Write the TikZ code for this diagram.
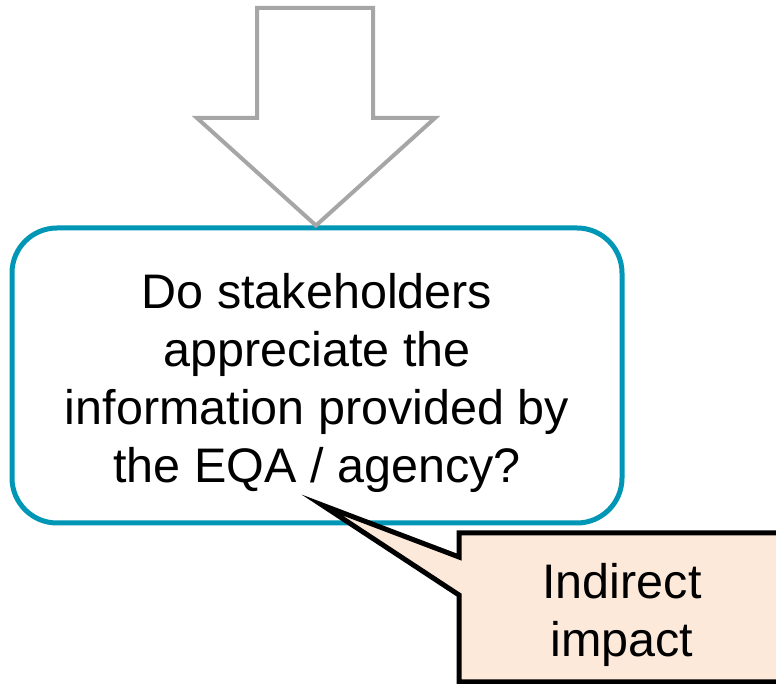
\documentclass[tikz,border=0pt]{standalone}
\usepackage{fontspec}
\setmainfont{Liberation Sans}
\definecolor{teal1}{RGB}{0,150,182}
\definecolor{calloutfill}{RGB}{253,233,217}
\definecolor{arrowgray}{RGB}{166,166,166}
\begin{document}
\begin{tikzpicture}[x=1pt,y=1pt,
  qbox/.style={draw=teal1,line width=5pt,rounded corners=45pt,fill=white,minimum width=610pt,minimum height=295pt,inner sep=0pt},
  bigtext/.style={font=\fontsize{48.5}{58}\selectfont,align=center,inner sep=0pt},
  callshape/.style={draw=black,line width=5pt,fill=calloutfill,line join=miter},
  arrowshape/.style={draw=arrowgray,line width=4pt,fill=white,line join=miter}]
\useasboundingbox (0,0) rectangle (776,684);
% question box
\node[qbox] (box) at (317,308.5) {};
% hollow down arrow
\coordinate (tip) at (box.north -| 316,0);
\draw[arrowshape] (257,676) -- (373,676) -- (373,566) -- (435,566) -- (tip) -- (197,566) -- (257,566) -- cycle;
\node[bigtext] (q) at (317,301) {Do stakeholders\\appreciate the\\information provided by\\the EQA / agency?};
% callout
\coordinate (ptr) at (322,179);
\draw[callshape] (459,151) -- (782,151) -- (782,2) -- (459,2) -- (459,89) -- (ptr) -- (459,127) -- cycle;
\node[bigtext] (impact) at (622,69.5) {Indirect\\impact};
\end{tikzpicture}
\end{document}
